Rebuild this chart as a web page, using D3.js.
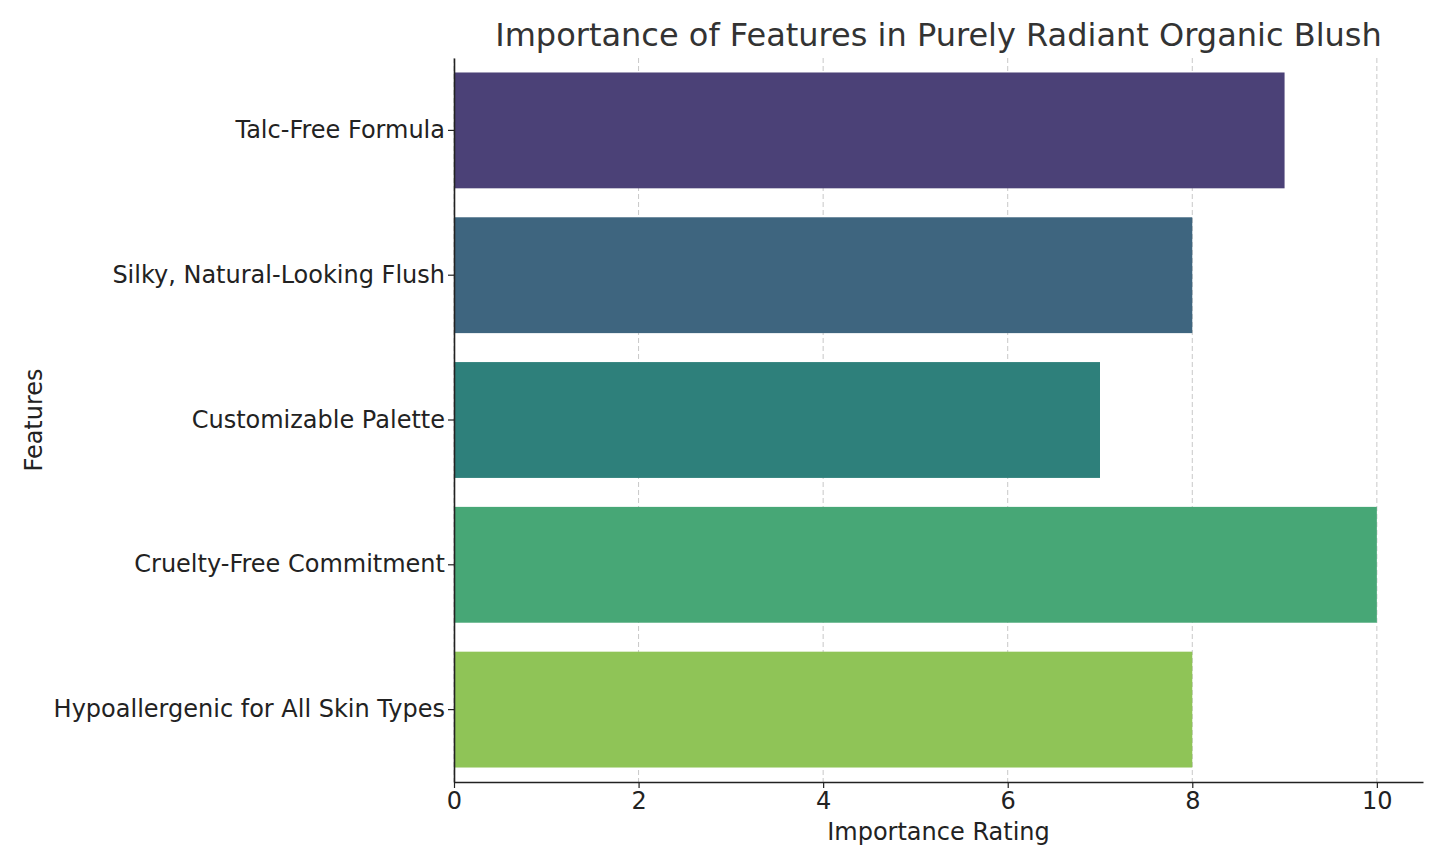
<!DOCTYPE html>
<html>
<head>
<meta charset="utf-8">
<script src="https://cdn.jsdelivr.net/npm/d3@7"></script>
<style>
  body { margin: 0; background: #fff; }
  text { font-family: "DejaVu Sans", sans-serif; }
</style>
</head>
<body>
<div id="chart"></div>
<script>
const features = [
  "Talc-Free Formula",
  "Silky, Natural-Looking Flush",
  "Customizable Palette",
  "Cruelty-Free Commitment",
  "Hypoallergenic for All Skin Types",
];
const ratings = [9, 8, 7, 10, 8];
const barColors = ["#4b4177", "#3e657f", "#2e807b", "#47a776", "#8fc457"];
const xTicks = [0, 2, 4, 6, 8, 10];

const width = 1445;
const height = 867;
const margin = { top: 58, right: 22, bottom: 85, left: 454 };

const svg = d3
  .select("#chart")
  .append("svg")
  .attr("width", width)
  .attr("height", height);

const x = d3
  .scaleLinear()
  .domain([0, 10.5])
  .range([margin.left, width - margin.right]);

const y = d3
  .scaleBand()
  .domain(features)
  .range([margin.top, height - margin.bottom])
  .paddingInner(0.2)
  .paddingOuter(0.1);

// grid lines
svg
  .append("g")
  .selectAll("line")
  .data(xTicks)
  .enter()
  .append("line")
  .attr("x1", (d) => x(d))
  .attr("x2", (d) => x(d))
  .attr("y1", margin.top)
  .attr("y2", height - margin.bottom)
  .attr("stroke", "#c8c8c8")
  .attr("stroke-width", 1)
  .attr("stroke-dasharray", "5,3");

// bars
svg
  .append("g")
  .selectAll("rect")
  .data(features)
  .enter()
  .append("rect")
  .attr("x", x(0))
  .attr("y", (d) => y(d))
  .attr("width", (d, i) => x(ratings[i]) - x(0))
  .attr("height", y.bandwidth())
  .attr("fill", (d, i) => barColors[i]);

// x axis
const xAxis = svg
  .append("g")
  .attr("transform", `translate(0,${height - margin.bottom})`)
  .call(
    d3.axisBottom(x).tickValues(xTicks).tickSize(6).tickSizeOuter(0).tickPadding(4)
  );
xAxis.select(".domain").attr("stroke", "#222").attr("stroke-width", 1.6);
xAxis.selectAll(".tick line").attr("stroke", "#222").attr("stroke-width", 1.2);
xAxis
  .selectAll(".tick text")
  .attr("font-size", "24px")
  .attr("fill", "#222")
  .attr("font-family", "DejaVu Sans");

// y axis
const yAxis = svg
  .append("g")
  .attr("transform", `translate(${margin.left},0)`)
  .call(d3.axisLeft(y).tickSize(6).tickPadding(3).tickSizeOuter(0));
yAxis.select(".domain").attr("stroke", "#222").attr("stroke-width", 1.6);
yAxis.selectAll(".tick line").attr("stroke", "#222").attr("stroke-width", 1.2);
yAxis
  .selectAll(".tick text")
  .attr("font-size", "24px")
  .attr("fill", "#222")
  .attr("font-family", "DejaVu Sans");

// title
svg
  .append("text")
  .attr("x", (margin.left + width - margin.right) / 2)
  .attr("y", 46)
  .attr("text-anchor", "middle")
  .attr("font-size", "32px")
  .attr("fill", "#333")
  .text("Importance of Features in Purely Radiant Organic Blush");

// axis labels
svg
  .append("text")
  .attr("x", (margin.left + width - margin.right) / 2)
  .attr("y", 840)
  .attr("text-anchor", "middle")
  .attr("font-size", "24px")
  .attr("fill", "#222")
  .text("Importance Rating");

svg
  .append("text")
  .attr("transform", `translate(42,${(margin.top + height - margin.bottom) / 2}) rotate(-90)`)
  .attr("text-anchor", "middle")
  .attr("font-size", "24px")
  .attr("fill", "#222")
  .text("Features");
</script>
</body>
</html>
